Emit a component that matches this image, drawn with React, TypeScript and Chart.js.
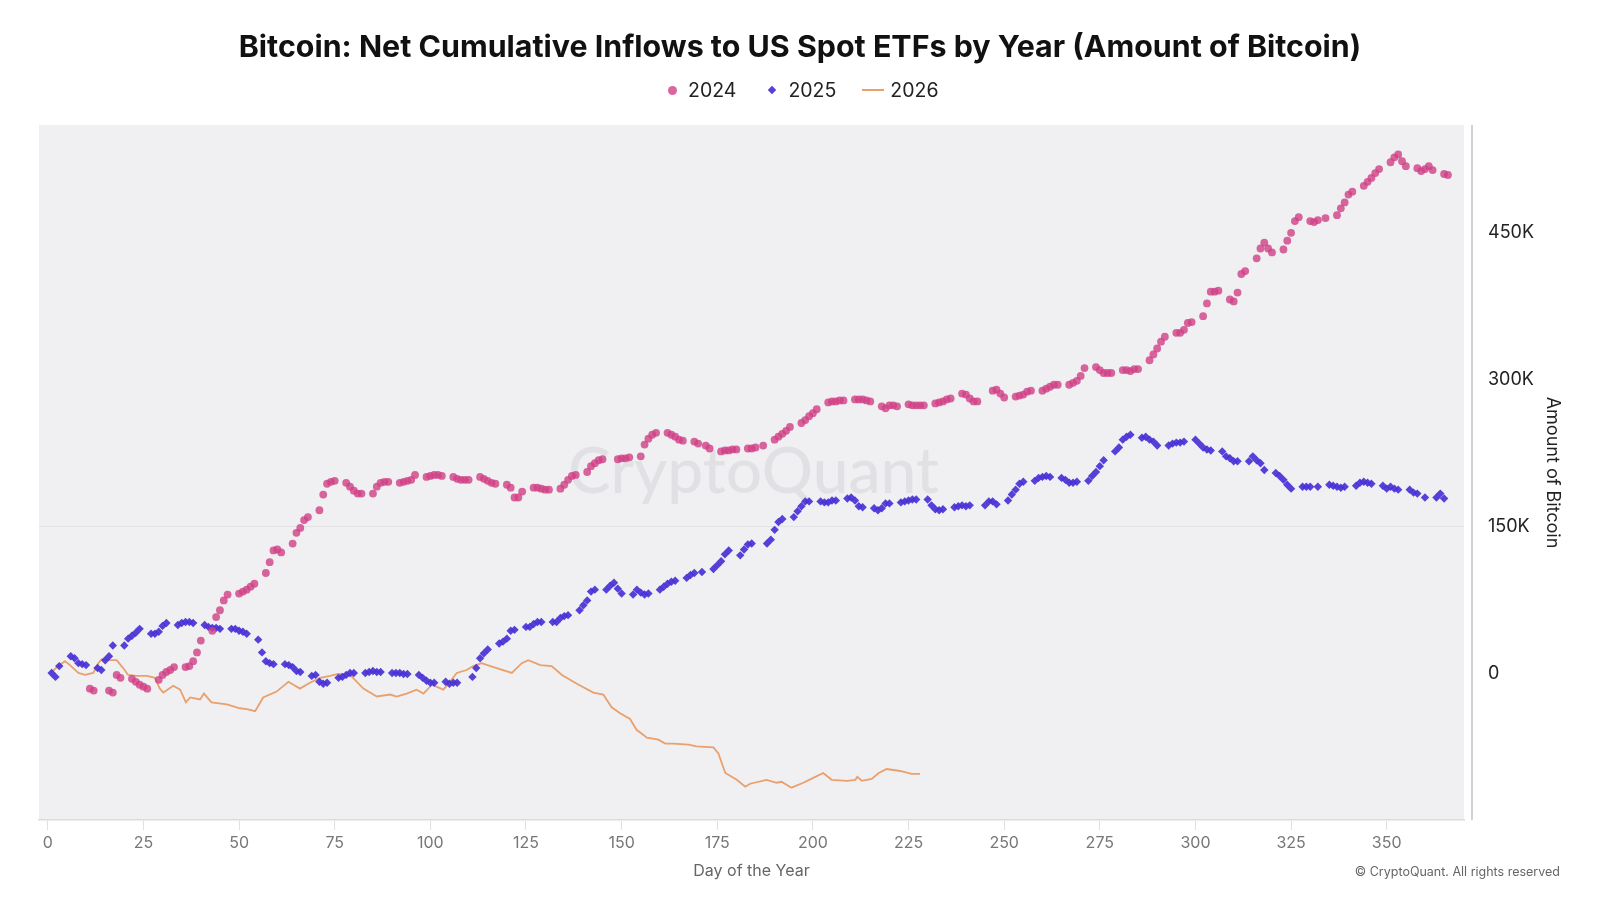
import { useEffect, useRef } from "react";
import { Chart, registerables } from "chart.js";

Chart.register(...registerables);

const TITLE = "Bitcoin: Net Cumulative Inflows to US Spot ETFs by Year (Amount of Bitcoin)";
const SERIES_LABELS = ["2024", "2025", "2026"];
const X_TICKS = [0, 25, 50, 75, 100, 125, 150, 175, 200, 225, 250, 275, 300, 325, 350];
const Y_TICKS = [0, 150000, 300000, 450000];

const COLOR_2024 = "rgba(208, 64, 132, 0.8)";
const COLOR_2025 = "rgba(72, 50, 214, 0.92)";
const COLOR_2026 = "#e9a06c";

// trading days Mon..Fri, one row per week, values in thousand BTC
// 2024 rows start on Monday Jan 8 (day 8)
const WEEK_START_2024 = 8;
const WEEKS_2024: (number | null)[][] = [
  [null, null, null, -15, -17],
  [null, -17, -19, -1, -4],
  [-5, -8, -11, -13, -15],
  [-6, -1, 2, 4, 7],
  [7, 8, 13, 22, 34],
  [44, 58, 65, 75, 81],
  [82, 84, 86, 89, 92],
  [103, 114, 126, 127, 124],
  [133, 144, 149, 157, 160],
  [167, 183, 194, 196, 197],
  [195, 191, 187, 184, 184],
  [184, 191, 195, 196, 196],
  [195, 196, 197, 198, 203],
  [201, 202, 203, 203, 202],
  [201, 199, 198, 198, 198],
  [201, 199, 197, 195, 194],
  [193, 190, 180, 180, 186],
  [190, 190, 189, 188, 188],
  [189, 193, 198, 202, 203],
  [206, 212, 215, 218, 219],
  [null, 219, 220, 220, 221],
  [222, 234, 240, 244, 246],
  [246, 244, 242, 239, 238],
  [237, 235, null, 233, 230],
  [227, 228, 228, 229, 229],
  [230, 230, 231, null, 233],
  [239, 242, 245, 248, 252],
  [256, 259, 263, 266, 270],
  [277, 278, 278, 279, 279],
  [280, 280, 280, 279, 278],
  [273, 271, 274, 274, 273],
  [275, 274, 274, 274, 274],
  [276, 277, 278, 280, 281],
  [286, 285, 281, 278, 278],
  [null, 289, 290, 286, 282],
  [283, 284, 285, 288, 289],
  [289, 291, 293, 295, 295],
  [295, 297, 299, 304, 312],
  [313, 310, 307, 307, 307],
  [310, 310, 309, 311, 311],
  [320, 326, 332, 339, 344],
  [348, 348, 351, 358, 359],
  [365, 378, 390, 390, 391],
  [382, 380, 389, 408, 411],
  [424, 434, 440, 434, 430],
  [433, 442, 450, 462, 466],
  [462, 461, 463, null, 465],
  [468, 475, 481, 489, 492],
  [498, 502, 506, 511, 515],
  [522, 527, 530, 523, 518],
  [516, 513, 515, 518, 514],
  [510, 509],
];

// 2025 rows start on Monday Dec 30 2024 (day -1)
const WEEK_START_2025 = -1;
const WEEKS_2025: (number | null)[][] = [
  [null, null, 1, -3, 8],
  [18, 16, 11, 10, 9],
  [6, 4, 14, 18, 29],
  [29, 36, 39, 42, 46],
  [41, 41, 43, 49, 52],
  [50, 52, 53, 53, 52],
  [50, 48, 47, 47, 46],
  [46, 46, 44, 43, 41],
  [35, 22, 13, 11, 10],
  [10, 9, 7, 3, 2],
  [-2, -1, -8, -10, -9],
  [-4, -3, -1, 1, 1],
  [1, 2, 3, 2, 2],
  [1, 1, 1, 0, 0],
  [-1, -4, -7, -9, -9],
  [-8, -10, -9, -9, null],
  [-3, 6, 16, 21, 25],
  [31, 33, 36, 44, 45],
  [48, 48, 51, 53, 53],
  [53, 53, 57, 59, 60],
  [65, 70, 75, 84, 86],
  [86, 90, 93, 87, 82],
  [81, 86, 83, 81, 82],
  [86, 89, 92, 94, 95],
  [98, 101, 103, null, 104],
  [107, 111, 115, 122, 126],
  [121, 127, 132, 133, null],
  [133, 137, 147, 155, 158],
  [160, 166, 171, 176, 176],
  [176, 175, 175, 177, 177],
  [179, 180, 177, 171, 170],
  [169, 167, 169, 174, 174],
  [175, 176, 177, 178, 178],
  [178, 172, 168, 167, 168],
  [170, 171, 172, 171, 172],
  [null, 172, 176, 176, 173],
  [177, 183, 188, 194, 196],
  [197, 200, 201, 202, 201],
  [200, 198, 195, 195, 196],
  [197, 202, 206, 212, 218],
  [227, 231, 239, 242, 244],
  [241, 242, 239, 237, 233],
  [233, 235, 236, 236, 237],
  [239, 235, 231, 229, 228],
  [227, 222, 220, 217, 217],
  [217, 222, 218, 215, 208],
  [205, 202, 198, 193, 189],
  [191, 191, 191, null, 191],
  [193, 192, 191, 190, 191],
  [192, 195, 196, 195, 194],
  [192, 189, 191, 189, 188],
  [188, 185, 184, null, 180],
  [180, 184, 179],
];

// 2026 line, day of year and value in thousand BTC
const DAYS_2026 = [
  1, 2.7, 4.5, 5.8, 8, 9.7, 11.9, 13.2, 14.1, 16.3, 18, 19.7, 21, 23.2, 25.9, 28, 29.3, 30.2, 32.8, 34.6,
  36.1, 37.2, 39.8, 40.8, 42.8, 46.8, 50.2, 52, 54.2, 56.3, 59.8, 62.9, 65.9, 68.5, 71.2, 73.8, 75.9, 79,
  80.3, 82.5, 86, 89.5, 91.2, 93.8, 96.4, 98.2, 100.4, 103.4, 104.3, 106.9, 109.5, 111.2, 113.4, 116.5,
  121.3, 123.9, 125.6, 128.7, 131.7, 134.4, 138.3, 142.6, 145.2, 147.4, 149.6, 152.2, 153.9, 155.3, 156.6,
  159.6, 161.4, 163.5, 167.5, 169.6, 174, 175.3, 177.1, 180.1, 182.3, 183.6, 187.9, 190.5, 191.8, 194.4,
  197.5, 200.1, 202.7, 204.9, 208.9, 211.1, 211.6, 212.8, 215.4, 217.2, 219.3, 222.8, 225.8, 228,
];
const VALUES_2026 = [
  2, 8, 13, 9, 1, -1, 1, 11, 15, 14, 14, 6, -1, -2, -2, -4, -15, -19, -12, -16,
  -29, -24, -26, -20, -29, -31, -35, -36, -38, -24, -18, -8, -15, -9, -4, -2, 0, -1,
  -6, -15, -23, -21, -23, -20, -16, -20, -11, -16, -12, 1, 4, 8, 11, 7,
  1, 11, 14, 9, 8, -1, -10, -19, -21, -34, -40, -46, -57, -61, -65,
  -67, -71, -71, -72, -74, -75, -81, -101, -108, -115, -112, -108, -111, -110, -116,
  -111, -106, -101, -108, -109, -108, -105, -109, -107, -101, -97, -99, -102, -102,
];

function weeklyPoints(start: number, weeks: (number | null)[][]) {
  const pts: { x: number; y: number }[] = [];
  weeks.forEach((week, w) => {
    week.forEach((v, d) => {
      if (v !== null) pts.push({ x: start + w * 7 + d, y: v * 1000 });
    });
  });
  return pts;
}

const plotBackground = {
  id: "plotBackground",
  beforeDraw(chart: any) {
    const { ctx, chartArea: a } = chart;
    ctx.save();
    ctx.fillStyle = "#f0f0f2";
    ctx.fillRect(a.left, a.top, a.right - a.left, a.bottom - a.top);
    // right axis rule, a little apart from the plot
    ctx.fillStyle = "#d2d2d4";
    ctx.fillRect(a.right + 7, a.top, 2, a.bottom - a.top);
    ctx.restore();
  },
  beforeDatasetsDraw(chart: any) {
    const { ctx, chartArea: a } = chart;
    ctx.save();
    ctx.font = "500 64px Lato, 'Noto Sans', sans-serif";
    ctx.fillStyle = "rgba(150, 150, 160, 0.16)";
    ctx.textAlign = "center";
    ctx.textBaseline = "middle";
    ctx.fillText("CryptoQuant", (a.left + a.right) / 2 + 2, (a.top + a.bottom) / 2);
    ctx.restore();
  },
};

function InflowChart() {
  const canvasRef = useRef<HTMLCanvasElement>(null);
  const chartRef = useRef<Chart | null>(null);

  useEffect(() => {
    if (!canvasRef.current) return;
    if (chartRef.current) chartRef.current.destroy();
    Chart.defaults.font.family = "Inter, 'Noto Sans', sans-serif";

    chartRef.current = new Chart(canvasRef.current, {
      type: "scatter",
      data: {
        datasets: [
          {
            label: SERIES_LABELS[0],
            data: weeklyPoints(WEEK_START_2024, WEEKS_2024),
            pointStyle: "circle",
            pointRadius: 3.9,
            pointBackgroundColor: COLOR_2024,
            pointBorderWidth: 0,
            showLine: false,
          },
          {
            label: SERIES_LABELS[1],
            data: weeklyPoints(WEEK_START_2025, WEEKS_2025),
            pointStyle: "rectRot",
            pointRadius: 4.2,
            pointBackgroundColor: COLOR_2025,
            pointBorderWidth: 0,
            showLine: false,
          },
          {
            label: SERIES_LABELS[2],
            data: DAYS_2026.map((d, i) => ({ x: d, y: VALUES_2026[i] * 1000 })),
            showLine: true,
            borderColor: COLOR_2026,
            borderWidth: 1.8,
            pointRadius: 0,
            tension: 0,
          },
        ],
      },
      options: {
        animation: false,
        responsive: false,
        layout: { padding: { left: 39, top: 125, right: 0, bottom: 0 } },
        plugins: {
          legend: { display: false },
          title: { display: false },
          tooltip: { enabled: false },
        },
        scales: {
          x: {
            type: "linear",
            min: -2.3,
            max: 370.2,
            afterBuildTicks: (s: any) => { s.ticks = X_TICKS.map(value => ({ value })); },
            afterFit: (s: any) => { s.height = 80; },
            grid: { drawOnChartArea: false, drawTicks: true, tickLength: 10, color: "#e0e0e2" },
            border: { display: true, color: "#dcdcde", width: 1.5 },
            ticks: { padding: 4, color: "#777", font: { size: 16 }, maxRotation: 0 },
            title: {
              display: true,
              text: "Day of the Year",
              color: "#666",
              font: { size: 16 },
              padding: { top: 0, bottom: 19 },
            },
          },
          y: {
            type: "linear",
            position: "right",
            min: -149000,
            max: 560000,
            afterBuildTicks: (s: any) => { s.ticks = Y_TICKS.map(value => ({ value })); },
            afterFit: (s: any) => { s.width = 136; },
            grid: {
              drawTicks: false,
              color: (c: any) => (c.tick && c.tick.value === 150000 ? "#e3e3e6" : "rgba(0,0,0,0)"),
            },
            border: { display: false },
            ticks: {
              padding: 24,
              color: "#222",
              font: { size: 18 },
              callback: (v: any) => (v === 0 ? "0" : `${v / 1000}K`),
            },
            title: {
              display: true,
              text: "Amount of Bitcoin",
              color: "#222",
              font: { size: 18 },
              padding: { top: 37, bottom: 0 },
            },
          },
        },
      },
      plugins: [plotBackground],
    } as any);

    return () => { chartRef.current?.destroy(); };
  }, []);

  return <canvas ref={canvasRef} width={1600} height={900} style={{ position: "absolute", left: 0, top: 0 }} />;
}

export default function App() {
  useEffect(() => { document.body.style.margin = "0"; }, []);

  const legendText = { fontSize: 19.5, color: "#222", marginLeft: 6 };
  return (
    <div style={{ position: "relative", width: 1600, height: 900, background: "#fff", fontFamily: "Inter, 'Noto Sans', sans-serif" }}>
      <InflowChart />
      <div style={{ position: "absolute", left: 0, top: 28, width: 1600, textAlign: "center", fontSize: 30.4, lineHeight: "36px", fontWeight: 700, color: "#111" }}>
        {TITLE}
      </div>

      {/* legend */}
      <div style={{ position: "absolute", left: 662, top: 78, height: 24, display: "flex", alignItems: "center", gap: 26 }}>
        <div style={{ display: "flex", alignItems: "center" }}>
          <span style={{ width: 20, display: "flex", justifyContent: "center" }}>
            <span style={{ width: 9, height: 9, borderRadius: "50%", background: COLOR_2024, display: "block" }} />
          </span>
          <span style={legendText}>{SERIES_LABELS[0]}</span>
        </div>
        <div style={{ display: "flex", alignItems: "center" }}>
          <span style={{ width: 20, display: "flex", justifyContent: "center" }}>
            <span style={{ width: 6, height: 6, transform: "rotate(45deg)", background: COLOR_2025, display: "block" }} />
          </span>
          <span style={legendText}>{SERIES_LABELS[1]}</span>
        </div>
        <div style={{ display: "flex", alignItems: "center" }}>
          <span style={{ width: 22, height: 2, background: COLOR_2026, display: "block" }} />
          <span style={{ ...legendText, marginLeft: 6 }}>{SERIES_LABELS[2]}</span>
        </div>
      </div>

      <div style={{ position: "absolute", right: 40, top: 864, fontSize: 12.5, lineHeight: "16px", color: "#666" }}>
        © CryptoQuant. All rights reserved
      </div>
    </div>
  );
}
